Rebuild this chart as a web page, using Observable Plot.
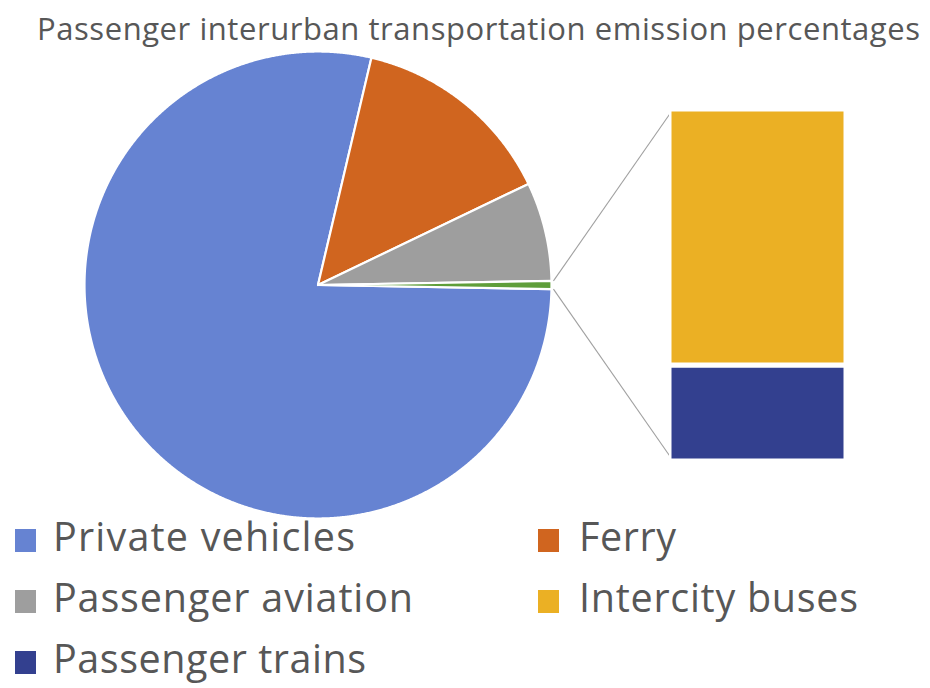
<!DOCTYPE html>
<html><head><meta charset="utf-8">
<script src="https://cdn.jsdelivr.net/npm/d3@7"></script>
<script src="https://cdn.jsdelivr.net/npm/@observablehq/plot@0.6"></script>
<style>
body{margin:0;background:#fff;}
#wrap{position:relative;width:930px;height:688px;overflow:hidden;font-family:"Open Sans",sans-serif;color:#575757;background:#fff;}
#wrap svg{position:absolute;}
#title{position:absolute;left:37px;top:12.5px;font-size:31px;white-space:nowrap;line-height:1;}
.leg{position:absolute;font-size:39.5px;white-space:nowrap;line-height:1;}
.sw{position:absolute;width:21px;height:23px;}
</style></head><body><div id="wrap"><div id="title"></div></div>
<script>
const title = "Passenger interurban transportation emission percentages";
// main pie (percent of emissions)
const pieLabels = ["Private vehicles", "Ferry", "Passenger aviation"];
const pieValues = [78.4, 14.2, 6.85];
// secondary bar (split of the small "other" slice)
const barLabels = ["Passenger trains", "Intercity buses"];
const barValues = [0.15, 0.40];
const legendLabels = ["Private vehicles", "Ferry", "Passenger aviation", "Intercity buses", "Passenger trains"];
const colorDomain = ["Private vehicles", "Ferry", "Passenger aviation", "Other", "Intercity buses", "Passenger trains"];
const colorRange = ["#6683d2", "#d0651f", "#9e9e9e", "#5f9e3a", "#ebb024", "#33408f"];

const W = 930, H = 688;
const cx = 317.5, cy = 284.5, r = 233.5;
const barBox = {left: 668.5, top: 108.5, width: 177, height: 352};

const otherValue = d3.sum(barValues);
const slices = pieLabels.map((l, i) => ({label: l, value: pieValues[i]})).concat([{label: "Other", value: otherValue}]);
const total = d3.sum(slices, d => d.value);
const otherDeg = otherValue / total * 360;
let a = 90 + otherDeg / 2;
const rows = [];
const rad = t => t * Math.PI / 180;
const angles = {};
for (const s of slices) {
  const a0 = a, a1 = a + s.value / total * 360;
  angles[s.label] = [a0, a1];
  rows.push({label: s.label, px: cx, py: cy});
  const n = Math.max(2, Math.ceil((a1 - a0) / 0.25));
  for (let k = 0; k <= n; k++) {
    const t = rad(a0 + (a1 - a0) * k / n);
    rows.push({label: s.label, px: cx + r * Math.sin(t), py: cy - r * Math.cos(t)});
  }
  a = a1;
}
const [oa0, oa1] = angles["Other"].map(rad);
const links = [
  {x1: cx + (r + 2) * Math.sin(oa0), y1: cy - (r + 2) * Math.cos(oa0), x2: barBox.left + 2.5, y2: barBox.top + 2.5},
  {x1: cx + (r + 2) * Math.sin(oa1), y1: cy - (r + 2) * Math.cos(oa1), x2: barBox.left + 2.5, y2: barBox.top + barBox.height - 2.5}
];

const pie = Plot.plot({
  width: W, height: H, margin: 0,
  x: {domain: [0, W], range: [0, W], axis: null},
  y: {domain: [0, H], range: [0, H], axis: null},
  color: {domain: colorDomain, range: colorRange},
  style: {background: "transparent"},
  marks: [
    Plot.line(rows, {x: "px", y: "py", z: "label", fill: "label", stroke: "white", strokeWidth: 2.2, curve: "linear-closed"}),
    Plot.link(links, {x1: "x1", y1: "y1", x2: "x2", y2: "y2", stroke: "#a0a0a0", strokeWidth: 1.1})
  ]
});
pie.style.left = "0px"; pie.style.top = "0px";

const barRows = barLabels.map((l, i) => ({label: l, value: barValues[i], g: "Other"}));
const bar = Plot.plot({
  width: barBox.width, height: barBox.height, margin: 0,
  x: {domain: ["Other"], padding: 0, axis: null},
  y: {domain: [0, otherValue], axis: null},
  color: {domain: colorDomain, range: colorRange},
  style: {background: "transparent"},
  marks: [
    Plot.barY(barRows, {x: "g", y: "value", fill: "label", stroke: "white", strokeWidth: 5})
  ]
});
bar.style.left = barBox.left + "px"; bar.style.top = barBox.top + "px";

const wrap = document.getElementById("wrap");
wrap.appendChild(pie);
wrap.appendChild(bar);
const titleEl = document.getElementById("title");
titleEl.textContent = title;

function fitWidth(el, target) {
  const w = el.getBoundingClientRect().width;
  const n = el.textContent.length;
  if (n > 1) el.style.letterSpacing = ((target - w) / (n - 1)) + "px";
}
fitWidth(titleEl, 883);

const legPos = [
  {sx: 15, tx: 53, row: 0, w: 302}, {sx: 538, tx: 579, row: 0, w: 97},
  {sx: 15, tx: 53, row: 1, w: 360}, {sx: 538, tx: 579, row: 1, w: 279},
  {sx: 15, tx: 53, row: 2, w: 313}
];
const baselines = [552, 613, 674];
legendLabels.forEach((l, i) => {
  const p = legPos[i];
  const sw = document.createElement("div");
  sw.className = "sw";
  sw.style.left = p.sx + "px";
  sw.style.top = (baselines[p.row] - 23) + "px";
  sw.style.background = colorRange[colorDomain.indexOf(l)];
  wrap.appendChild(sw);
  const t = document.createElement("div");
  t.className = "leg";
  t.style.left = p.tx + "px";
  t.style.top = (baselines[p.row] - 35.1) + "px";
  t.textContent = l;
  wrap.appendChild(t);
  fitWidth(t, p.w);
});
</script></body></html>
